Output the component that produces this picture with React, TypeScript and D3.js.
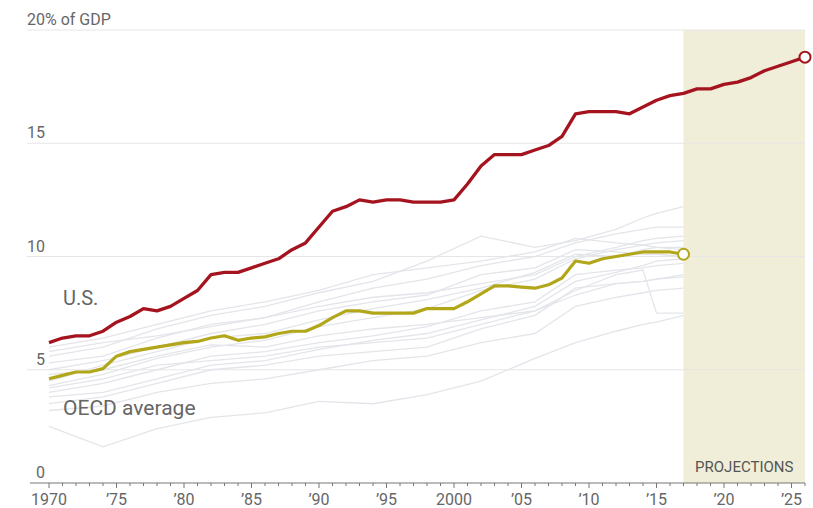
import React from "react";
import * as d3 from "d3";

// Health spending as a share of GDP, 1970–2026 (U.S. projected from 2017)
const usYears = d3.range(1970, 2027);
const usValues = [
  6.2, 6.4, 6.5, 6.5, 6.7, 7.1, 7.35, 7.7, 7.6, 7.8,
  8.15, 8.5, 9.2, 9.3, 9.3, 9.5, 9.7, 9.9, 10.3, 10.6,
  11.3, 12.0, 12.2, 12.5, 12.4, 12.5, 12.5, 12.4, 12.4, 12.4,
  12.5, 13.2, 14.0, 14.5, 14.5, 14.5, 14.7, 14.9, 15.3, 16.3,
  16.4, 16.4, 16.4, 16.3, 16.6, 16.9, 17.1, 17.2, 17.4, 17.4,
  17.6, 17.7, 17.9, 18.2, 18.4, 18.6, 18.8,
];

const oecdYears = d3.range(1970, 2018);
const oecdValues = [
  4.6, 4.75, 4.9, 4.9, 5.05, 5.6, 5.8, 5.9, 6.0, 6.1,
  6.2, 6.25, 6.4, 6.5, 6.3, 6.4, 6.45, 6.6, 6.7, 6.7,
  6.95, 7.3, 7.6, 7.6, 7.5, 7.5, 7.5, 7.5, 7.7, 7.7,
  7.7, 8.0, 8.35, 8.7, 8.7, 8.65, 8.6, 8.75, 9.05, 9.8,
  9.7, 9.9, 10.0, 10.1, 10.2, 10.2, 10.2, 10.1,
];

// Individual OECD members, sampled at these years
const countryYears = [1970, 1974, 1978, 1982, 1986, 1990, 1994, 1998, 2002, 2006, 2009, 2012, 2014, 2015, 2017];
const countryA = [2.5, 1.6, 2.4, 2.9, 3.1, 3.6, 3.5, 3.9, 4.5, 5.5, 6.2, 6.7, 7.0, 7.1, 7.4];
const countryB = [3.5, 3.8, 4.4, 5.0, 5.2, 5.6, 5.8, 6.0, 6.8, 7.4, 8.6, 8.8, 8.9, 9.0, 9.1];
const countryC = [4.0, 4.4, 5.0, 5.6, 5.8, 6.2, 6.5, 6.9, 7.6, 8.0, 9.2, 9.4, 9.5, 9.6, 9.7];
const countryD = [4.3, 4.8, 5.5, 6.0, 6.3, 6.9, 7.3, 7.7, 8.5, 9.0, 9.9, 10.3, 10.5, 10.6, 10.7];
const countryE = [5.0, 5.4, 6.0, 6.6, 7.0, 7.6, 8.0, 8.3, 9.2, 9.5, 10.3, 10.2, 10.1, 10.1, 10.0];
const countryF = [5.3, 5.6, 6.4, 7.0, 7.3, 8.0, 8.6, 9.0, 9.6, 10.0, 10.6, 11.0, 11.2, 11.3, 11.3];
const countryG = [5.6, 6.0, 6.8, 7.4, 7.8, 8.4, 8.9, 9.8, 10.9, 10.4, 10.7, 11.2, 11.7, 11.9, 12.2];
const countryH = [4.2, 4.6, 5.2, 5.4, 5.6, 6.0, 6.2, 6.4, 7.0, 7.6, 8.5, 9.2, 9.4, 7.5, 7.5];
const countryI = [4.8, 5.0, 5.6, 6.1, 6.0, 6.5, 6.8, 7.0, 7.3, 7.6, 8.3, 8.8, 8.9, 9.0, 9.2];
const countryJ = [3.8, 4.0, 4.6, 5.2, 5.4, 5.9, 6.3, 6.6, 7.2, 7.8, 8.9, 9.3, 9.6, 9.8, 9.9];
const countryK = [5.8, 6.2, 6.5, 6.9, 7.3, 7.8, 8.2, 8.4, 8.8, 9.2, 10.0, 10.4, 10.7, 10.8, 10.9];
const countryL = [6.0, 6.4, 7.0, 7.6, 8.0, 8.5, 9.2, 9.5, 9.8, 10.2, 10.8, 10.6, 10.5, 10.4, 10.3];
const countryM = [3.2, 3.4, 4.0, 4.4, 4.6, 5.0, 5.4, 5.6, 6.2, 6.6, 7.8, 8.2, 8.4, 8.5, 8.6];
const countryN = [4.5, 5.2, 5.8, 6.4, 6.6, 7.2, 7.7, 8.1, 8.6, 9.3, 10.1, 10.0, 10.3, 10.4, 10.4];
const countries = [
  countryA, countryB, countryC, countryD, countryE, countryF, countryG,
  countryH, countryI, countryJ, countryK, countryL, countryM, countryN,
];

const yTicks = [0, 5, 10, 15, 20];
const yUnit = "% of GDP";
const xMajorTicks = [1970, 1975, 1980, 1985, 1990, 1995, 2000, 2005, 2010, 2015, 2020, 2025];
const xTickLabels = ["1970", "\u201975", "\u201980", "\u201985", "\u201990", "\u201995", "2000", "\u201905", "\u201910", "\u201915", "\u201920", "\u201925"];
const projectionStart = 2017;
const projectionEnd = 2026;

const W = 813;
const H = 508;
const FONT = "Roboto, 'Noto Sans', sans-serif";
const RED = "#a5141e";
const OLIVE = "#b2a61a";
const TEXT = "#666";

export default function App() {
  const x = d3.scaleLinear().domain([1970, 2026]).range([49, 805]);
  const y = d3.scaleLinear().domain([0, 20]).range([483, 30]);

  const line = d3
    .line<[number, number]>()
    .x((d) => x(d[0]))
    .y((d) => y(d[1]));

  const usPath = line(usYears.map((yr, i) => [yr, usValues[i]]))!;
  const oecdPath = line(oecdYears.map((yr, i) => [yr, oecdValues[i]]))!;
  const minorTicks = d3.range(1970, 2027);

  const usLast = usValues.length - 1;
  const oecdLast = oecdValues.length - 1;
  const topTick = yTicks[yTicks.length - 1];

  return (
    <svg
      width={W}
      height={H}
      style={{ position: "absolute", left: 0, top: 0, background: "#fff" }}
      fontFamily={FONT}
    >
      {/* projection band */}
      <rect
        x={x(projectionStart)}
        y={y(20)}
        width={x(projectionEnd) - x(projectionStart)}
        height={y(0) - y(20)}
        fill="#f0eed9"
      />
      <text
        x={(x(projectionStart) + x(projectionEnd)) / 2}
        y={472}
        textAnchor="middle"
        fontSize={15}
        fill="#555"
      >
        PROJECTIONS
      </text>

      {/* horizontal gridlines and value labels */}
      {yTicks
        .filter((t) => t > 0)
        .map((t) => (
          <line key={t} x1={27} x2={805} y1={y(t)} y2={y(t)} stroke="#e6e6e6" strokeWidth={1} />
        ))}
      {yTicks.map((t) => (
        <text key={t} x={45} y={y(t) - 5} textAnchor="end" fontSize={16} fill={TEXT}>
          {t}
        </text>
      ))}
      <text x={45} y={y(topTick) - 5} fontSize={16} fill={TEXT}>
        {yUnit}
      </text>

      {/* member-country lines */}
      {countries.map((vals, i) => (
        <path
          key={i}
          d={line(countryYears.map((yr, j) => [yr, vals[j]]))!}
          fill="none"
          stroke="#e3e5ea"
          strokeWidth={1.3}
        />
      ))}

      {/* OECD average */}
      <path d={oecdPath} fill="none" stroke={OLIVE} strokeWidth={3.2} strokeLinejoin="round" />
      <circle
        cx={x(oecdYears[oecdLast])}
        cy={y(oecdValues[oecdLast])}
        r={5.5}
        fill="#fff"
        stroke={OLIVE}
        strokeWidth={2}
      />

      {/* U.S. */}
      <path d={usPath} fill="none" stroke={RED} strokeWidth={3.3} strokeLinejoin="round" />
      <circle
        cx={x(usYears[usLast])}
        cy={y(usValues[usLast])}
        r={5.5}
        fill="#fff"
        stroke={RED}
        strokeWidth={2}
      />

      {/* series labels */}
      <text x={63} y={305} fontSize={20} fill={TEXT}>U.S.</text>
      <text x={63} y={415} fontSize={21} fill={TEXT}>OECD average</text>

      {/* x axis */}
      <line x1={30} x2={805} y1={y(0)} y2={y(0)} stroke="#777" strokeWidth={1.2} />
      {minorTicks.map((t) => (
        <line
          key={t}
          x1={x(t)}
          x2={x(t)}
          y1={y(0)}
          y2={y(0) + (t % 5 === 0 ? 5 : 3)}
          stroke="#777"
          strokeWidth={1}
        />
      ))}
      {xMajorTicks.map((t, i) => (
        <text key={t} x={x(t)} y={505} textAnchor="middle" fontSize={16} fill={TEXT}>
          {xTickLabels[i]}
        </text>
      ))}
    </svg>
  );
}
